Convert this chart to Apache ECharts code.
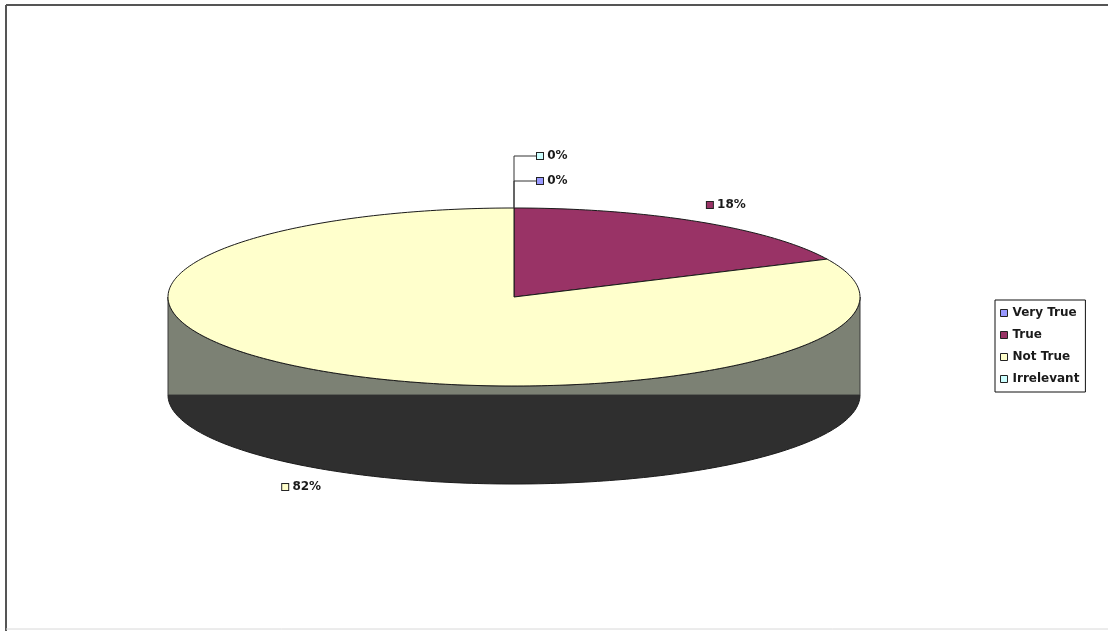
<!DOCTYPE html>
<html>
<head>
<meta charset="utf-8">
<script src="https://cdn.jsdelivr.net/npm/echarts@6/dist/echarts.min.js"></script>
<style>
  html, body { margin: 0; padding: 0; background: #fff; }
  #chart { width: 1108px; height: 631px; }
</style>
</head>
<body>
<div id="chart"></div>
<script>
// Survey answers and their shares
const categories = ['Very True', 'True', 'Not True', 'Irrelevant'];
const values = [0, 18, 82, 0];

// Slice colours (top face) and side shading
const sliceColors = ['#9999FF', '#993366', '#FFFFCC', '#CCFFFF'];
const sideLight = ['#6b6b99', '#5c1f3d', '#7c8174', '#7a9999'];
const sideDark = ['#3a3a55', '#331122', '#2f2f2f', '#445555'];

// Geometry of the tilted disc
const CX = 514, CY = 297, RX = 346, RY = 89, DEPTH = 98;
const FONT = 'DejaVu Sans';

const total = values.reduce((a, b) => a + b, 0);
// Slices run clockwise starting at 12 o'clock
const startAngles = [];
let acc = 0;
values.forEach(v => { startAngles.push(90 - acc / total * 360); acc += v; });
const endAngle = i => startAngles[i] - values[i] / total * 360;

function pt(deg, dy) {
  const r = deg * Math.PI / 180;
  return [CX + RX * Math.cos(r), CY - RY * Math.sin(r) + (dy || 0)];
}
function arc(from, to, dy) {
  const n = Math.max(2, Math.ceil(Math.abs(to - from)));
  const pts = [];
  for (let k = 0; k <= n; k++) pts.push(pt(from + (to - from) * k / n, dy));
  return pts;
}

// Visible front wall of each slice
function renderSide(params) {
  const i = params.dataIndex;
  const a = startAngles[i], b = endAngle(i);
  const children = [];
  [-720, -360, 0, 360].forEach(k => {
    const lo = Math.max(b, -180 + k), hi = Math.min(a, k);
    if (hi - lo > 0.01) {
      const xl = pt(lo)[0], xh = pt(hi)[0];
      const band = CY + DEPTH;
      children.push({
        type: 'polygon',
        shape: { points: arc(lo, hi, DEPTH).concat([[xh, band], [xl, band]]) },
        style: { fill: sideDark[i], stroke: '#1c1c1c', lineWidth: 1 }
      });
      children.push({
        type: 'polygon',
        shape: { points: arc(hi, lo, 0).concat([[xl, band], [xh, band]]) },
        style: { fill: sideLight[i], stroke: '#3a3a3a', lineWidth: 1 }
      });
    }
  });
  return { type: 'group', children };
}

// Top face of each slice
function renderTop(params) {
  const i = params.dataIndex;
  if (values[i] <= 0) return { type: 'group', children: [] };
  const pts = [[CX, CY]].concat(arc(startAngles[i], endAngle(i), 0));
  return {
    type: 'polygon',
    shape: { points: pts },
    style: { fill: sliceColors[i], stroke: '#1a1a1a', lineWidth: 1 }
  };
}

// Percentage labels, with leader lines for empty slices
const zeroOrder = [];
values.forEach((v, i) => { if (v === 0) zeroOrder.push(i); });

function labelText(i) {
  return {
    text: '{s|} ' + Math.round(values[i] / total * 100) + '%',
    fontFamily: FONT, fontWeight: 'bold', fontSize: 12, fill: '#1a1a1a',
    rich: {
      s: { width: 6, height: 6, backgroundColor: sliceColors[i], borderColor: '#222', borderWidth: 1 }
    }
  };
}

function renderLabel(params) {
  const i = params.dataIndex;
  if (values[i] === 0) {
    const j = zeroOrder.indexOf(i);
    const p = pt(startAngles[i], 0);
    const y = p[1] - 27 - 25 * j;
    return {
      type: 'group',
      children: [
        { type: 'polyline', shape: { points: [[p[0], p[1]], [p[0], y], [p[0] + 22, y]] },
          style: { stroke: '#333', lineWidth: 1, fill: null } },
        { type: 'text', style: Object.assign(labelText(i), { x: p[0] + 23, y: y, align: 'left', verticalAlign: 'middle' }) }
      ]
    };
  }
  const mid = (startAngles[i] + endAngle(i)) / 2;
  const r = mid * Math.PI / 180;
  const c = Math.cos(r), s = Math.sin(r);
  const p = pt(mid, s < 0 ? DEPTH : 0);
  return {
    type: 'text',
    style: Object.assign(labelText(i), {
      x: p[0] + c * 14, y: p[1] - s * 20,
      align: c >= 0 ? 'left' : 'right', verticalAlign: 'middle'
    })
  };
}

const seriesData = categories.map((n, i) => ({ name: n, value: values[i] }));

const chart = echarts.init(document.getElementById('chart'), null, { renderer: 'canvas' });
chart.setOption({
  animation: false,
  backgroundColor: '#ffffff',
  color: sliceColors,
  legend: {
    orient: 'vertical',
    left: 995, top: 300,
    icon: 'rect', itemWidth: 7, itemHeight: 7, itemGap: 8,
    selectedMode: false,
    borderColor: '#111', borderWidth: 1,
    padding: [6, 6, 6, 5],
    itemStyle: { borderColor: '#222', borderWidth: 1 },
    textStyle: { fontFamily: FONT, fontWeight: 'bold', fontSize: 12, color: '#1a1a1a', lineHeight: 14 },
    data: categories
  },
  graphic: [
    { type: 'line', shape: { x1: 6, y1: 5, x2: 1108, y2: 5 }, style: { stroke: '#555', lineWidth: 2 } },
    { type: 'line', shape: { x1: 6, y1: 5, x2: 6, y2: 631 }, style: { stroke: '#555', lineWidth: 2 } },
    { type: 'line', shape: { x1: 6, y1: 629, x2: 1108, y2: 629 }, style: { stroke: '#d8d8d8', lineWidth: 1 } }
  ],
  series: [
    { type: 'pie', radius: [0, 0], center: [-50, -50], data: seriesData, label: { show: false }, silent: true },
    { type: 'custom', coordinateSystem: 'none', z: 1, silent: true, renderItem: renderSide, data: seriesData },
    { type: 'custom', coordinateSystem: 'none', z: 2, silent: true, renderItem: renderTop, data: seriesData },
    { type: 'custom', coordinateSystem: 'none', z: 3, silent: true, renderItem: renderLabel, data: seriesData }
  ]
});
</script>
</body>
</html>
